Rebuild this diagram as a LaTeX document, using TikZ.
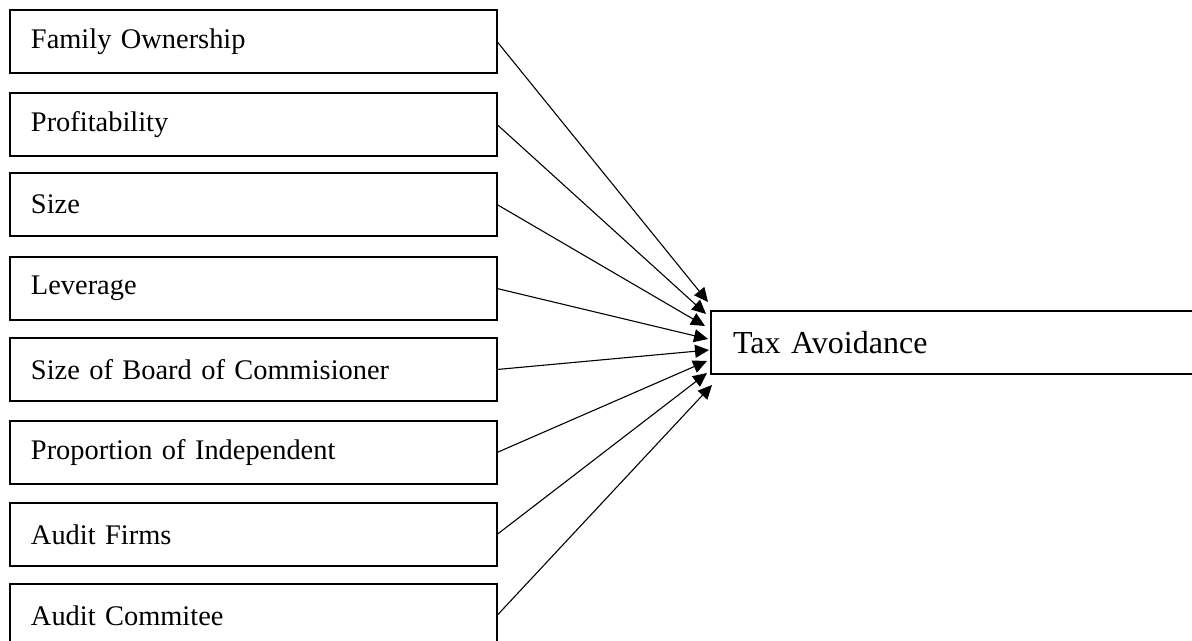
\documentclass[tikz,border=0pt]{standalone}
\usepackage{fontspec}
\setmainfont{Liberation Serif}
\usetikzlibrary{arrows.meta}
\tikzset{
  varbox/.style={draw, line width=1.1pt, anchor=north west, minimum width=243.5pt, minimum height=31.5pt,
    inner xsep=10.5pt, text width=222.5pt, align=left, outer sep=0pt, font=\fontsize{14.2}{16}\selectfont},
  depbox/.style={draw, line width=1.2pt, anchor=north west, minimum width=250pt, minimum height=31.5pt,
    inner xsep=11pt, text width=228pt, align=left, outer sep=0pt, font=\fontsize{16}{18}\selectfont},
  link/.style={line width=0.55pt, -{Triangle[length=7pt,width=6.5pt]}}
}
\begin{document}
\begin{tikzpicture}[x=0.5pt,y=-0.5pt]
\useasboundingbox (0,0) rectangle (1192,641);
\clip (0,0) rectangle (1192,641);
\node[varbox] (v1) at (10,10) {Family Ownership};
\node[varbox] (v2) at (10,93) {Profitability};
\node[varbox] (v3) at (10,173) {Size};
\node[varbox] (v4) at (10,257) {Leverage};
\node[varbox] (v5) at (10,338) {Size of Board of Commisioner};
\node[varbox] (v6) at (10,421) {Proportion of Independent};
\node[varbox] (v7) at (10,503) {Audit Firms};
\node[varbox] (v8) at (10,584) {Audit Commitee};
\node[depbox] (tax) at (711,311) {Tax Avoidance};
\coordinate (t1) at (708,302);
\coordinate (t2) at (706,314);
\coordinate (t3) at (705,326);
\coordinate (t4) at (708,339);
\coordinate (t5) at (709,350);
\coordinate (t6) at (707,361);
\coordinate (t7) at (707,373);
\coordinate (t8) at (712,385);
\draw[link] (v1.east) -- (t1);
\draw[link] (v2.east) -- (t2);
\draw[link] (v3.east) -- (t3);
\draw[link] (v4.east) -- (t4);
\draw[link] (v5.east) -- (t5);
\draw[link] (v6.east) -- (t6);
\draw[link] (v7.east) -- (t7);
\draw[link] (v8.east) -- (t8);
\end{tikzpicture}
\end{document}
